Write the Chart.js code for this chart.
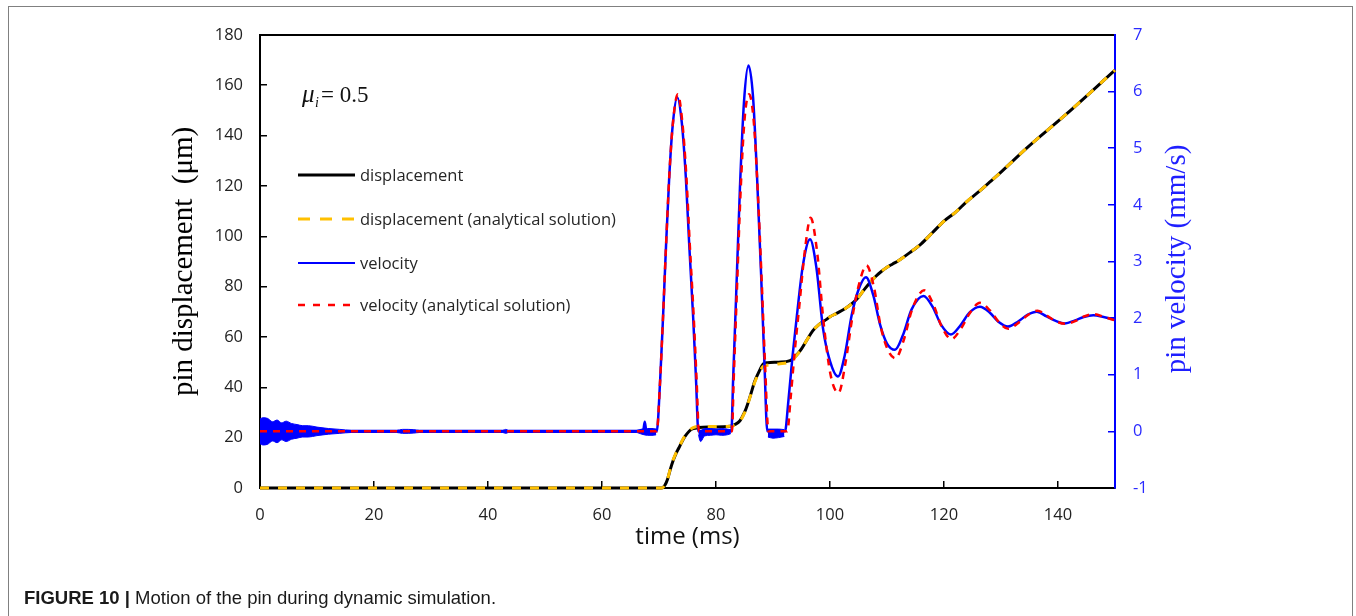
<!doctype html>
<html lang="en">
  <head>
    <meta charset="utf-8">
    <script src="https://cdn.jsdelivr.net/npm/chart.js"></script>
    <title>Motion of the pin</title>
    <style>
      body { margin: 0; background: #fff; }
      #frame { position: absolute; left: 8px; top: 6px; width: 1343px; height: 640px; border: 1.5px solid #808080; }
      #pinChart { position: absolute; left: 0; top: 0; }
      #caption { position: absolute; left: 24px; top: 589px; font-family: "Liberation Sans", Arial, sans-serif; font-size: 18.5px; line-height: 1; color: #1a1a1a; white-space: nowrap; }
    </style>
  </head>
  <body>
    <div id="frame"></div>
    <canvas id="pinChart" width="1356" height="616"></canvas>
    <div id="caption"><b>FIGURE 10 |</b> Motion of the pin during dynamic simulation.</div>

<script>
// time (ms) / pin displacement (um)
const dispTime = [0, 70.5, 71, 71.5, 72, 72.5, 73, 73.5, 74, 74.5, 75, 75.5, 76, 77, 79, 82.5, 83.3, 84.2, 85, 85.5,
  86, 86.8, 87.5, 88.3, 89, 91, 93, 94, 95, 96, 97, 98, 99.4, 100, 101, 102, 103, 104, 105, 106,
  107, 108, 109, 110, 111, 112, 114, 116, 118, 120, 122, 124, 126, 128, 130, 134.5, 141.5, 150];
const dispSim = [0, 0, 1, 3.5, 7.5, 11, 13.8, 16, 18.3, 20.3, 21.8, 23, 23.6, 24, 24.2, 24.5, 25.2, 26.7, 30, 33,
  36.5, 42.4, 46, 49.3, 49.8, 50, 50.6, 52.5, 55.3, 59, 62.5, 64.8, 67, 68, 69.2, 70.4, 71.8, 73.5, 75.8, 78.8,
  81.5, 84, 86, 87.7, 89, 90.3, 93.5, 97, 101.5, 106, 109.5, 113.8, 117.5, 121.5, 125.5, 135, 148.6, 166];
const dispAnalytic = [0, 0, 1, 3.5, 7.8, 11.3, 14, 16.2, 18.5, 20.5, 22, 23.2, 24, 24.4, 24.4, 24.5, 25, 26.5, 29.8, 32.8,
  36.3, 42, 45.5, 48.3, 48.8, 49.3, 50.2, 52.3, 55.2, 59, 62.5, 64.8, 67, 68, 69.2, 70.4, 71.8, 73.5, 75.8, 78.8,
  81.5, 84, 86, 87.7, 89, 90.3, 93.5, 97, 101.5, 106, 109.5, 113.8, 117.5, 121.5, 125.5, 135, 148.6, 166];

// time (ms) / pin velocity (mm/s), simulation
const velTime = [0, 67.2, 67.5, 67.8, 69.6, 70.2, 70.7, 71.2, 71.8, 72.4, 73.2, 74.0, 74.7, 75.3, 76.0, 76.5, 76.9,
  82.7, 83.0, 83.5, 84.2, 84.9, 85.7, 86.5, 87.2, 87.9, 88.5, 89.0, 92.1, 92.7, 93.4, 94.2, 95.2, 96.5, 97.6,
  98.8, 100.0, 101.4, 102.6, 103.8, 105.0, 106.3, 107.6, 108.8, 110.0, 111.4, 112.8, 114.3, 116.4, 118.0, 119.5,
  121.2, 122.8, 124.5, 126.3, 128.0, 129.6, 131.2, 133.0, 134.7, 136.3, 138.0, 139.6, 141.2, 143.0, 144.5, 146.2,
  148.0, 150];
const velSim = [0, 0, 0.17, 0, 0, 0.9, 2.0, 3.2, 4.5, 5.4, 5.9, 5.45, 4.5, 3.3, 2.0, 0.9, 0,
  0, 0.9, 2.3, 4.3, 5.8, 6.46, 5.9, 4.5, 2.8, 1.2, 0, 0, 0.54, 1.3, 2.05, 2.9, 3.39, 2.9,
  1.8, 1.24, 0.97, 1.35, 2.05, 2.5, 2.72, 2.4, 1.88, 1.55, 1.44, 1.7, 2.15, 2.39, 2.2, 1.88,
  1.71, 1.86, 2.1, 2.2, 2.1, 1.93, 1.85, 1.94, 2.06, 2.11, 2.03, 1.95, 1.905, 1.96, 2.02, 2.05,
  2.02, 1.97];

// time (ms) / pin velocity (mm/s), analytical solution
const velTimeAn = [0, 69.6, 70.2, 70.7, 71.2, 71.8, 72.4, 73.3, 74.1, 74.8, 75.4, 76.1, 76.6, 77.0,
  82.8, 83.1, 83.6, 84.3, 85.0, 85.8, 86.6, 87.3, 88.0, 88.6, 89.2, 92.5, 93.1, 93.8, 94.6, 95.6, 96.6, 97.7,
  98.9, 100.1, 101.5, 102.7, 103.9, 105.1, 106.4, 107.7, 108.9, 110.1, 111.5, 112.9, 114.4, 116.5, 118.1, 119.6,
  121.3, 122.9, 124.6, 126.3, 128.1, 129.7, 131.3, 133.1, 134.8, 136.4, 138.1, 139.7, 141.3, 143.1, 144.6, 146.3,
  148.1, 150];
const velAnalytic = [0, 0, 0.9, 2.0, 3.2, 4.5, 5.4, 5.95, 5.45, 4.5, 3.3, 2.0, 0.9, 0,
  0, 0.9, 2.3, 4.2, 5.5, 5.95, 5.5, 4.3, 2.7, 1.2, 0, 0, 0.6, 1.4, 2.2, 3.2, 3.77, 3.2,
  1.9, 1.0, 0.68, 1.2, 2.0, 2.6, 2.93, 2.55, 1.85, 1.45, 1.29, 1.6, 2.15, 2.49, 2.25, 1.85,
  1.63, 1.8, 2.1, 2.27, 2.13, 1.92, 1.81, 1.92, 2.06, 2.13, 2.04, 1.94, 1.9, 1.95, 2.03, 2.07,
  2.02, 1.96];

// upper / lower edge of the noisy band on the simulated velocity (mm/s)
const noiseTime = [0, 0.5, 1.3, 2.2, 3.0, 3.8, 4.6, 5.5, 6.5, 7.5, 8.5, 10, 12, 14, 16, 24, 25, 26, 27, 28,
  42.6, 43.1, 43.6, 66, 67, 68, 69, 69.5, 70, 76.9, 77.3, 78, 79, 80, 81, 82, 82.6, 83, 89.1, 90, 91, 92];
const noiseHi = [0.22, 0.24, 0.23, 0.17, 0.2, 0.15, 0.18, 0.14, 0.12, 0.1, 0.1, 0.075, 0.05, 0.035, 0.02, 0.02, 0.035, 0.035, 0.03, 0.02,
  0.02, 0.035, 0.02, 0.02, 0.04, 0.05, 0.05, 0.04, null, 0.02, 0.02, 0.05, 0.05, 0.04, 0.05, 0.04, 0.03, null, 0.04, 0.04, 0.04, 0.03];
const noiseLo = [-0.22, -0.24, -0.23, -0.17, -0.2, -0.15, -0.18, -0.14, -0.12, -0.1, -0.1, -0.075, -0.05, -0.035, -0.02, -0.02, -0.035, -0.035, -0.03, -0.02,
  -0.02, -0.035, -0.02, -0.02, -0.05, -0.07, -0.07, -0.06, null, -0.06, -0.18, -0.08, -0.07, -0.06, -0.07, -0.06, -0.04, null, -0.1, -0.12, -0.11, -0.09];

const legendItems = [
  { text: 'displacement', color: '#000000', width: 3, dash: [] },
  { text: 'displacement (analytical solution)', color: '#FFC000', width: 3, dash: [12, 10] },
  { text: 'velocity', color: '#0000FF', width: 2, dash: [] },
  { text: 'velocity (analytical solution)', color: '#FF0000', width: 2.5, dash: [7, 8] }
];

function toXY(xs, ys) {
  return xs.map(function (x, i) { return { x: x, y: ys[i] }; });
}

const tickFont = { family: "'Open Sans', sans-serif", size: 16.5 };
const serifTitle = { family: "'Liberation Serif', 'Times New Roman', serif", size: 29, lineHeight: 1 };

// legend, mu label and the right axis title
const overlay = {
  id: 'overlay',
  afterDraw: function (chart) {
    const ctx = chart.ctx;
    ctx.save();

    var ly = [175, 219, 263, 305];
    legendItems.forEach(function (item, i) {
      ctx.beginPath();
      ctx.setLineDash(item.dash);
      ctx.strokeStyle = item.color;
      ctx.lineWidth = item.width;
      ctx.moveTo(298, ly[i]);
      ctx.lineTo(355, ly[i]);
      ctx.stroke();
      ctx.setLineDash([]);
      ctx.fillStyle = '#262626';
      ctx.font = "16.5px 'Open Sans', sans-serif";
      ctx.textBaseline = 'middle';
      ctx.textAlign = 'left';
      ctx.fillText(item.text, 360, ly[i] + 1);
    });

    ctx.fillStyle = '#111';
    ctx.textBaseline = 'alphabetic';
    ctx.font = "italic 25px 'Liberation Serif', serif";
    ctx.fillText('μ', 302, 102);
    ctx.font = "italic 14px 'Liberation Serif', serif";
    ctx.fillText('i', 315, 107);
    ctx.font = "23px 'Liberation Serif', serif";
    ctx.fillText('= 0.5', 321, 102);

    ctx.translate(1177, 259);
    ctx.rotate(-Math.PI / 2);
    ctx.fillStyle = '#1f1fff';
    ctx.font = "29px 'Liberation Serif', serif";
    ctx.textAlign = 'center';
    ctx.textBaseline = 'middle';
    ctx.fillText('pin velocity (mm/s)', 0, 0);
    ctx.restore();
  }
};

var ctx = document.getElementById('pinChart').getContext('2d');
var pinChart = new Chart(ctx, {
  type: 'line',
  data: {
    datasets: [
      {
        label: 'displacement',
        data: toXY(dispTime, dispSim),
        yAxisID: 'y',
        borderColor: '#000000',
        borderWidth: 3,
        clip: false,
        order: 6
      },
      {
        label: 'displacement (analytical solution)',
        data: toXY(dispTime, dispAnalytic),
        yAxisID: 'y',
        borderColor: '#FFC000',
        borderWidth: 3,
        borderDash: [9, 9],
        clip: false,
        order: 5
      },
      {
        label: 'velocity band top',
        data: toXY(noiseTime, noiseHi),
        yAxisID: 'y1',
        borderColor: '#0000FF',
        borderWidth: 1,
        fill: false,
        order: 4
      },
      {
        label: 'velocity band bottom',
        data: toXY(noiseTime, noiseLo),
        yAxisID: 'y1',
        borderColor: '#0000FF',
        backgroundColor: '#0000FF',
        borderWidth: 1,
        fill: '-1',
        order: 4
      },
      {
        label: 'velocity',
        data: toXY(velTime, velSim),
        yAxisID: 'y1',
        borderColor: '#0000FF',
        borderWidth: 2.5,
        order: 2
      },
      {
        label: 'velocity (analytical solution)',
        data: toXY(velTimeAn, velAnalytic),
        yAxisID: 'y1',
        borderColor: '#FF0000',
        borderWidth: 2.5,
        borderDash: [7, 6],
        order: 1
      }
    ]
  },
  plugins: [overlay],
  options: {
    responsive: false,
    animation: false,
    events: [],
    layout: { padding: { top: 30, left: 0, right: 0, bottom: 0 } },
    elements: {
      point: { radius: 0 },
      line: { cubicInterpolationMode: 'monotone', fill: false }
    },
    scales: {
      x: {
        type: 'linear',
        position: 'bottom',
        min: 0,
        max: 150,
        afterFit: function (scale) { scale.height = 128; },
        ticks: { stepSize: 20, includeBounds: false, padding: 24, color: '#222', font: tickFont, maxRotation: 0 },
        grid: { drawOnChartArea: false, tickLength: -7, color: '#000', lineWidth: 1.5 },
        border: { color: '#000', width: 2 },
        title: {
          display: true,
          text: 'time (ms)',
          color: '#111',
          font: { family: "'Open Sans', sans-serif", size: 24, lineHeight: 1.2 },
          padding: { top: 0, bottom: 64 }
        }
      },
      xTop: {
        type: 'linear',
        position: 'top',
        min: 0,
        max: 150,
        afterFit: function (scale) { scale.height = 0; },
        ticks: { display: false },
        grid: { drawOnChartArea: false, drawTicks: false },
        border: { color: '#000', width: 2 }
      },
      y: {
        type: 'linear',
        position: 'left',
        min: 0,
        max: 180,
        afterFit: function (scale) { scale.width = 260; },
        ticks: { stepSize: 20, padding: 24, color: '#222', font: tickFont },
        grid: { drawOnChartArea: false, tickLength: -7, color: '#000', lineWidth: 1.5 },
        border: { color: '#000', width: 2 },
        title: {
          display: true,
          text: 'pin displacement  (μm)',
          color: '#000',
          font: serifTitle,
          padding: { top: 170, bottom: 0 }
        }
      },
      y1: {
        type: 'linear',
        position: 'right',
        min: -1,
        max: 7,
        afterFit: function (scale) { scale.width = 241; },
        ticks: { stepSize: 1, padding: 25, color: '#2a2aff', font: tickFont },
        grid: { drawOnChartArea: false, tickLength: -7, color: '#0000FF', lineWidth: 1.5 },
        border: { color: '#0000FF', width: 2 }
      }
    },
    plugins: {
      legend: { display: false },
      tooltip: { enabled: false }
    }
  }
});
</script>
  </body>
</html>
